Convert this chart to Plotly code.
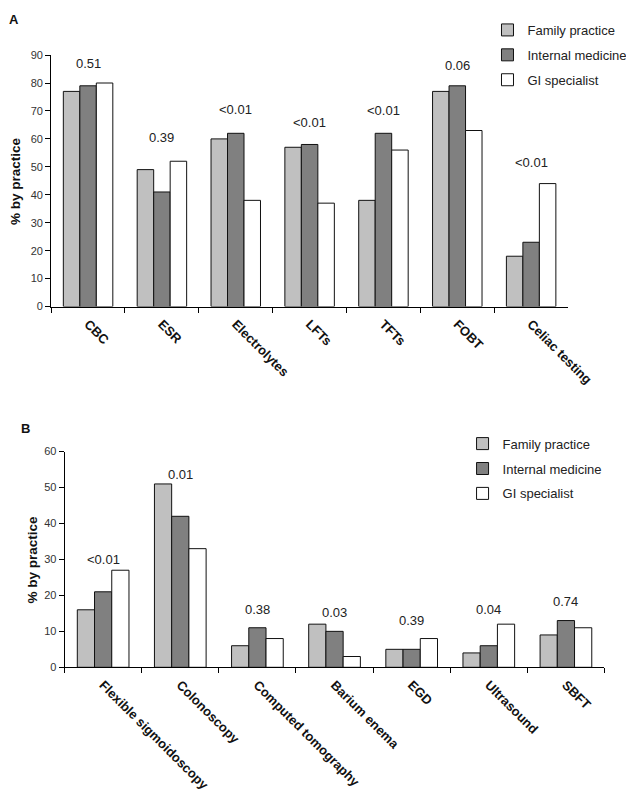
import plotly.graph_objects as go

W, H = 634, 796

# ---- Panel A data ----
cats_a = ["CBC", "ESR", "Electrolytes", "LFTs", "TFTs", "FOBT", "Celiac testing"]
fp_a = [77, 49, 60, 57, 38, 77, 18]
im_a = [79, 41, 62, 58, 62, 79, 23]
gi_a = [80, 52, 38, 37, 56, 63, 44]
p_a = ["0.51", "0.39", "<0.01", "<0.01", "<0.01", "0.06", "<0.01"]
p_a_y = [87, 60.5, 70.6, 66, 70, 86.4, 51.6]

# ---- Panel B data ----
cats_b = ["Flexible sigmoidoscopy", "Colonoscopy", "Computed tomography",
          "Barium enema", "EGD", "Ultrasound", "SBFT"]
fp_b = [16, 51, 6, 12, 5, 4, 9]
im_b = [21, 42, 11, 10, 5, 6, 13]
gi_b = [27, 33, 8, 3, 8, 12, 11]
p_b = ["<0.01", "0.01", "0.38", "0.03", "0.39", "0.04", "0.74"]
p_b_y = [29.9, 53.6, 16.1, 15.3, 13.0, 16.2, 18.4]

series_names = ["Family practice", "Internal medicine", "GI specialist"]
colors = ["#c0c0c0", "#808080", "#ffffff"]

FONT = "Arial, Liberation Sans, sans-serif"

fig = go.Figure()
for vals, name, col, i in zip([fp_a, im_a, gi_a], series_names, colors, range(3)):
    fig.add_trace(go.Bar(x=cats_a, y=vals, name=name, marker=dict(color=col, line=dict(color="#111111", width=1)),
                         xaxis="x", yaxis="y", legend="legend", legendgroup="a%d" % i))
for vals, name, col, i in zip([fp_b, im_b, gi_b], series_names, colors, range(3)):
    fig.add_trace(go.Bar(x=cats_b, y=vals, name=name, marker=dict(color=col, line=dict(color="#111111", width=1)),
                         xaxis="x2", yaxis="y2", legend="legend2", legendgroup="b%d" % i))

def px(v):
    return v / W

def py(v):
    return (H - v) / H

axis_common = dict(showline=True, linecolor="black", linewidth=1, showgrid=False, zeroline=False,
                   ticks="outside", ticklen=5, tickcolor="black", fixedrange=True)

xtick = dict(tickangle=45, tickfont=dict(family=FONT, size=13, color="#111111", weight="bold"),
             tickson="boundaries", ticklabelstandoff=4)
ytick = dict(tickfont=dict(family=FONT, size=11, color="#333333"), dtick=10)

fig.update_layout(
    width=W, height=H, autosize=False,
    margin=dict(l=0, r=0, t=0, b=0),
    paper_bgcolor="white", plot_bgcolor="white",
    font=dict(family=FONT, color="#222222"),
    barmode="group", bargap=0.33, bargroupgap=0,
    xaxis=dict(domain=[px(45), px(584)], anchor="y", **axis_common, **xtick),
    yaxis=dict(domain=[py(297), py(41.7)], anchor="x", range=[0, 90], **axis_common, **ytick),
    xaxis2=dict(domain=[px(59), px(622)], anchor="y2", **axis_common, **xtick),
    yaxis2=dict(domain=[py(663.3), py(444.3)], anchor="x2", range=[0, 60], **axis_common, **ytick),
    legend=dict(x=px(500), y=py(1), xanchor="left", yanchor="top", bgcolor="rgba(0,0,0,0)",
                font=dict(family=FONT, size=13, color="#222222"), tracegroupgap=5),
    legend2=dict(x=px(474), y=py(421), xanchor="left", yanchor="top", bgcolor="rgba(0,0,0,0)",
                 font=dict(family=FONT, size=13, color="#222222"), tracegroupgap=5),
)

ann = []
for c, t, yv in zip(cats_a, p_a, p_a_y):
    ann.append(dict(x=c, y=yv, xref="x", yref="y", text=t, showarrow=False,
                    xanchor="center", yanchor="middle", font=dict(family=FONT, size=13, color="#222222")))
for c, t, yv in zip(cats_b, p_b, p_b_y):
    ann.append(dict(x=c, y=yv, xref="x2", yref="y2", text=t, showarrow=False,
                    xanchor="center", yanchor="middle", font=dict(family=FONT, size=13, color="#222222")))

# panel letters and y titles
ann.append(dict(x=px(6), y=py(6), xref="paper", yref="paper", text="A", showarrow=False,
                xanchor="center", yanchor="middle", font=dict(family=FONT, size=13, color="#111111", weight="bold")))
ann.append(dict(x=px(18), y=py(421), xref="paper", yref="paper", text="B", showarrow=False,
                xanchor="center", yanchor="middle", font=dict(family=FONT, size=13, color="#111111", weight="bold")))
ann.append(dict(x=px(8), y=py(170), xref="paper", yref="paper", text="% by practice", showarrow=False, textangle=-90,
                xanchor="center", yanchor="middle", font=dict(family=FONT, size=13.5, color="#111111", weight="bold")))
ann.append(dict(x=px(26), y=py(554), xref="paper", yref="paper", text="% by practice", showarrow=False, textangle=-90,
                xanchor="center", yanchor="middle", font=dict(family=FONT, size=13.5, color="#111111", weight="bold")))

fig.update_layout(annotations=ann)

fig.write_html("out.html")
